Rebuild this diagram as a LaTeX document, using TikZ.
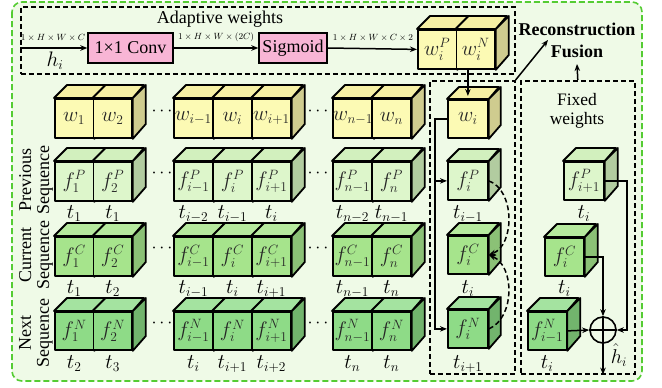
\documentclass[tikz,border=0pt]{standalone}
\usepackage{fix-cm}
\usepackage{fontspec}
\setmainfont{Liberation Serif}
\usetikzlibrary{arrows.meta,calc}
\DeclareMathSizes{21}{21}{13.5}{10}
\DeclareMathSizes{20}{20}{13}{10}

\definecolor{bgfill}{HTML}{EFFAE7}
\definecolor{bgedge}{HTML}{55CC33}
\definecolor{wF}{HTML}{FCFAB4}
\definecolor{wT}{HTML}{F6F0A4}
\definecolor{wS}{HTML}{CFCC8F}
\definecolor{pF}{HTML}{DDF6CB}
\definecolor{pT}{HTML}{D2F0BE}
\definecolor{pS}{HTML}{B2CCA0}
\definecolor{cF}{HTML}{A6E48C}
\definecolor{cT}{HTML}{B6EA9E}
\definecolor{cS}{HTML}{8BC176}
\definecolor{nF}{HTML}{8EDB87}
\definecolor{nT}{HTML}{A4E3A0}
\definecolor{nS}{HTML}{72B46D}
\definecolor{pinkbox}{HTML}{F8B5D5}

\tikzset{
  cubeface/.style={draw=black, line width=1.8pt, line join=round, inner sep=0pt,
    text=black!85, font=\fontsize{21}{23}\selectfont},
  cubeedge/.style={draw=black, line width=1.8pt, line join=round},
  tlab/.style={inner sep=0pt, anchor=base, font=\fontsize{21}{23}\selectfont},
  dotlab/.style={inner sep=0pt, font=\fontsize{18}{20}\selectfont},
  dimlab/.style={inner sep=0pt, font=\fontsize{9}{10}\selectfont},
  dbox/.style={draw=black, line width=1.6pt, dash pattern=on 5pt off 3pt, inner sep=0pt},
  opbox/.style={draw=black, line width=1.4pt, fill=pinkbox, inner sep=0pt,
    minimum height=30pt, font=\fontsize{18}{20}\selectfont},
  conn/.style={draw=black, line width=1.5pt},
  arr/.style={conn, -{Stealth[length=7pt,width=5.5pt]}},
  darr/.style={arr, dash pattern=on 5pt off 3pt},
  seqlab/.style={rotate=90, align=center, inner sep=0pt, font=\fontsize{18}{18}\selectfont},
}

% #1 name, #2 x, #3 y (front top-left), #4 width, #5 height, #6 depth, #7 colour set, #8 label
\newcommand{\drawcube}[8]{%
  \node[cubeface, fill=#7F, minimum width=#4pt, minimum height=#5pt, anchor=north west] (#1) at (#2,#3) {$#8$};
  \draw[cubeedge, fill=#7T] (#1.north west) -- ++(#6,-#6) -- ++(#4,0) -- (#1.north east) -- cycle;
  \draw[cubeedge, fill=#7S] (#1.north east) -- ++(#6,-#6) -- ++(0,#5) -- (#1.south east) -- cycle;
}

\begin{document}
\begin{tikzpicture}[x=1pt, y=-1pt]
\useasboundingbox (0,0) rectangle (662,388);

% outer frame
\draw[bgedge, fill=bgfill, line width=1.6pt, dash pattern=on 6pt off 3pt, rounded corners=10pt]
  (12,2) rectangle (642,381);

% dashed group boxes
\node[dbox, minimum width=494pt, minimum height=67pt, anchor=north west] (adapt) at (20,6) {};
\node[dbox, minimum width=85pt, minimum height=293pt, anchor=north west] (midbox) at (429,80) {};
\node[dbox, minimum width=114pt, minimum height=293pt, anchor=north west] (fixbox) at (520,80) {};

% adaptive weight branch
\node[inner sep=0pt, font=\fontsize{18}{20}\selectfont] (adtitle) at (220,19) {Adaptive weights};
\node[opbox, minimum width=85pt] (conv) at (130.5,48) {1×1 Conv};
\node[opbox, minimum width=68pt] (sig) at (293,48) {Sigmoid};
\coordinate (hin) at (20,48);
\node[dimlab] (d1) at (53,37.5) {$1\times H\times W\times C$};
\node[dimlab] (d2) at (216,37.5) {$1\times H\times W\times (2C)$};
\node[dimlab] (d3) at (373,38) {$1\times H\times W\times C\times 2$};
\node[inner sep=0pt, font=\fontsize{21}{23}\selectfont] (hlab) at (55,61) {$h_i$};

\drawcube{wP}{417}{29}{38.5}{39}{13}{w}{w_i^P}
\drawcube{wN}{455.5}{29}{38.5}{39}{13}{w}{w_i^N}

\draw[arr] (hin) -- (conv.west);
\draw[arr] (conv.east) -- (sig.west);
\draw[arr] (sig.east) -- (wP.west);

% sequence labels
\node[seqlab] (seqP) at (36,180) {Previous\\Sequence};
\node[seqlab] (seqC) at (36,255) {Current\\Sequence};
\node[seqlab] (seqN) at (36,333) {Next\\Sequence};

% baselines of the time labels
\coordinate (bP) at (0,218);
\coordinate (bC) at (0,293);
\coordinate (bN) at (0,368);

% weight row
\drawcube{w1}{54}{98}{38.5}{39}{13}{w}{w_1}
\drawcube{w2}{92.5}{98}{38.5}{39}{13}{w}{w_2}
\drawcube{wa}{173}{98}{39}{39}{13}{w}{w_{i-1}}
\drawcube{wb}{212}{98}{39}{39}{13}{w}{w_i}
\drawcube{wc}{251}{98}{39}{39}{13}{w}{w_{i+1}}
\drawcube{wy}{332}{98}{39}{39}{13}{w}{w_{n-1}}
\drawcube{wz}{371}{98}{39}{39}{13}{w}{w_n}

% previous sequence
\drawcube{p1}{54}{161}{38.5}{39}{13}{p}{f_1^P}
\drawcube{p2}{92.5}{161}{38.5}{39}{13}{p}{f_2^P}
\drawcube{pa}{173}{161}{39}{39}{13}{p}{f_{i-1}^P}
\drawcube{pb}{212}{161}{39}{39}{13}{p}{f_i^P}
\drawcube{pc}{251}{161}{39}{39}{13}{p}{f_{i+1}^P}
\drawcube{py}{332}{161}{39}{39}{13}{p}{f_{n-1}^P}
\drawcube{pz}{371}{161}{39}{39}{13}{p}{f_n^P}

% current sequence
\drawcube{c1}{54}{236}{38.5}{39}{13}{c}{f_1^C}
\drawcube{c2}{92.5}{236}{38.5}{39}{13}{c}{f_2^C}
\drawcube{ca}{173}{236}{39}{39}{13}{c}{f_{i-1}^C}
\drawcube{cb}{212}{236}{39}{39}{13}{c}{f_i^C}
\drawcube{cc}{251}{236}{39}{39}{13}{c}{f_{i+1}^C}
\drawcube{cy}{332}{236}{39}{39}{13}{c}{f_{n-1}^C}
\drawcube{cz}{371}{236}{39}{39}{13}{c}{f_n^C}

% next sequence
\drawcube{n1}{54}{311}{38.5}{38}{13}{n}{f_1^N}
\drawcube{n2}{92.5}{311}{38.5}{38}{13}{n}{f_2^N}
\drawcube{na}{173}{311}{39}{38}{13}{n}{f_{i-1}^N}
\drawcube{nb}{212}{311}{39}{38}{13}{n}{f_i^N}
\drawcube{nc}{251}{311}{39}{38}{13}{n}{f_{i+1}^N}
\drawcube{ny}{332}{311}{39}{38}{13}{n}{f_{n-1}^N}
\drawcube{nz}{371}{311}{39}{38}{13}{n}{f_n^N}

% ellipses between the groups
\foreach \r/\yy in {w/111, p/173, c/248, n/323} {
  \node[dotlab] (dl\r) at (162,\yy) {$\cdots$};
  \node[dotlab] (dr\r) at (318,\yy) {$\cdots$};
}

% time labels
\node[tlab] (tp1) at (p1.south |- bP) {$t_1$};
\node[tlab] (tp2) at (p2.south |- bP) {$t_1$};
\node[tlab] (tpa) at (pa.south |- bP) {$t_{i-2}$};
\node[tlab] (tpb) at (pb.south |- bP) {$t_{i-1}$};
\node[tlab] (tpc) at (pc.south |- bP) {$t_i$};
\node[tlab] (tpy) at (py.south |- bP) {$t_{n-2}$};
\node[tlab] (tpz) at (pz.south |- bP) {$t_{n-1}$};

\node[tlab] (tc1) at (c1.south |- bC) {$t_1$};
\node[tlab] (tc2) at (c2.south |- bC) {$t_2$};
\node[tlab] (tca) at (ca.south |- bC) {$t_{i-1}$};
\node[tlab] (tcb) at (cb.south |- bC) {$t_i$};
\node[tlab] (tcc) at (cc.south |- bC) {$t_{i+1}$};
\node[tlab] (tcy) at (cy.south |- bC) {$t_{n-1}$};
\node[tlab] (tcz) at (cz.south |- bC) {$t_n$};

\node[tlab] (tn1) at (n1.south |- bN) {$t_2$};
\node[tlab] (tn2) at (n2.south |- bN) {$t_3$};
\node[tlab] (tna) at (na.south |- bN) {$t_i$};
\node[tlab] (tnb) at (nb.south |- bN) {$t_{i+1}$};
\node[tlab] (tnc) at (nc.south |- bN) {$t_{i+2}$};
\node[tlab] (tny) at (ny.south |- bN) {$t_n$};
\node[tlab] (tnz) at (nz.south |- bN) {$t_n$};

% reconstruction column
\drawcube{wi}{447}{99}{40}{38}{12}{w}{w_i}
\drawcube{fP}{447}{161}{40}{38}{12}{p}{f_i^P}
\drawcube{fC}{447}{235}{40}{38}{12}{c}{f_i^C}
\drawcube{fN}{447}{309}{40}{38}{12}{n}{f_i^N}
\node[tlab] (tfP) at (fP.south |- bP) {$t_{i-1}$};
\node[tlab] (tfC) at (fC.south |- bC) {$t_i$};
\node[tlab] (tfN) at (fN.south |- bN) {$t_{i+1}$};

\coordinate (witop) at ($(wi.north)+(0,-3)$);
\draw[arr] (wN.south -| witop) -- (witop);
\coordinate (lbus) at (435,118);
\draw[arr] (wi.west) -- (wi.west -| lbus) |- (fN.west);
\draw[arr] (fP.west -| lbus) -- (fP.west);
\draw[darr] (fP.east) .. controls (515,190) and (515,245) .. (fC.east);
\draw[darr] (fN.east) .. controls (515,318) and (515,266) .. (fC.east);

% fixed weights column
\node[inner sep=0pt, align=center, font=\fontsize{17.5}{19}\selectfont] (fixlab) at (577,111) {Fixed\\weights};
\drawcube{fq}{563}{161}{40}{38}{13}{p}{f_{i+1}^P}
\drawcube{fc2}{544}{237}{39}{38}{13}{c}{f_i^C}
\drawcube{fn2}{527}{311}{38.5}{38}{13}{n}{f_{i-1}^N}
\node[tlab] (tq) at (fq.south |- bP) {$t_i$};
\node[tlab] (tc) at (fc2.south |- bC) {$t_i$};
\node[tlab] (tn) at (fn2.south |- bN) {$t_i$};

\node[draw=black, line width=1.6pt, circle, minimum size=26pt, inner sep=0pt] (oplus) at (603,330) {};
\draw[line width=1.6pt] (oplus.north) -- (oplus.south) (oplus.west) -- (oplus.east);

\coordinate (rbus) at (627,180);
\draw[arr] (fq.east) -- (fq.east -| rbus) |- (oplus.east);
\draw[arr] (fc2.east) -| (oplus.north);
\draw[arr] (fn2.east) -- (oplus.west);
\draw[arr] (oplus.south) -- (oplus.south |- fixbox.south);
\node[inner sep=0pt, font=\fontsize{20}{22}\selectfont] (hhat) at (619,355) {$\hat{h}_i$};

% fusion output
\node[inner sep=0pt, align=center, font=\bfseries\fontsize{18}{22}\selectfont] (recon) at (577,40) {Reconstruction\\Fusion};
\coordinate (rfin) at (548,40);
\coordinate (rfbot) at (577,64);
\draw[arr] (midbox.north east) -- (rfin);
\draw[arr] (fixbox.north) -- (rfbot);
\end{tikzpicture}
\end{document}
